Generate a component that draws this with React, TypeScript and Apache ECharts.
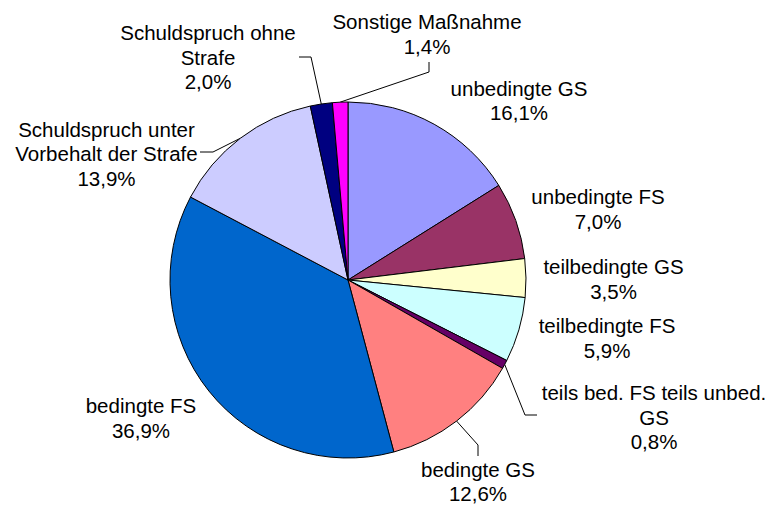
import React, { useEffect, useRef } from "react";
import * as echarts from "echarts";

const categories = [
  "unbedingte GS",
  "unbedingte FS",
  "teilbedingte GS",
  "teilbedingte FS",
  "teils bed. FS teils unbed. GS",
  "bedingte GS",
  "bedingte FS",
  "Schuldspruch unter Vorbehalt der Strafe",
  "Schuldspruch ohne Strafe",
  "Sonstige Maßnahme",
];
const labelTexts = [
  "unbedingte GS",
  "unbedingte FS",
  "teilbedingte GS",
  "teilbedingte FS",
  "teils bed. FS teils unbed.\nGS",
  "bedingte GS",
  "bedingte FS",
  "Schuldspruch unter\nVorbehalt der Strafe",
  "Schuldspruch ohne\nStrafe",
  "Sonstige Maßnahme",
];
const values = [16.1, 7.0, 3.5, 5.9, 0.8, 12.6, 36.9, 13.9, 2.0, 1.4];
const colors = [
  "#9999FF",
  "#993366",
  "#FFFFCC",
  "#CCFFFF",
  "#660066",
  "#FF8080",
  "#0066CC",
  "#CCCCFF",
  "#000080",
  "#FF00FF",
];

// layout: label anchor positions (centre of text block) and leader-line bends
const CX = 348;
const CY = 280;
const R = 178;
const labelPos: number[][] = [
  [519, 100.5],
  [598, 209],
  [613.5, 279],
  [607, 338],
  [654, 417],
  [478, 481.5],
  [141, 418],
  [106.5, 153.5],
  [208, 57],
  [427, 34],
];
const guides: Record<number, number[][]> = {
  4: [
    [525, 415],
    [537, 415],
  ],
  5: [
    [478, 445],
    [478, 456],
  ],
  7: [
    [213, 152],
    [200, 152],
  ],
  8: [
    [311, 57],
    [299, 57],
  ],
  9: [
    [429, 72],
    [429, 62],
  ],
};

function edgePoint(i: number): number[] {
  const total = values.reduce((a, b) => a + b, 0);
  let before = 0;
  for (let k = 0; k < i; k++) before += values[k];
  const frac = (before + values[i] / 2) / total;
  const a = frac * Math.PI * 2;
  return [CX + R * Math.sin(a), CY - R * Math.cos(a)];
}

export default function App() {
  const ref = useRef<HTMLDivElement>(null);
  useEffect(() => {
    document.body.style.margin = "0";
    if (!ref.current) return;
    const chart = echarts.init(ref.current, undefined, { renderer: "svg" });
    const data = categories.map((name, i) => ({
      name,
      value: values[i],
      itemStyle: { color: colors[i] },
      labelLine: { show: !!guides[i] },
    }));
    chart.setOption({
      animation: false,
      backgroundColor: "#ffffff",
      series: [
        {
          type: "pie",
          center: [CX, CY],
          radius: R,
          startAngle: 90,
          clockwise: true,
          avoidLabelOverlap: false,
          silent: true,
          itemStyle: { borderColor: "#000000", borderWidth: 1 },
          label: {
            show: true,
            position: "outside",
            color: "#000000",
            fontFamily: "'Liberation Sans', Arial, sans-serif",
            fontSize: 20.5,
            lineHeight: 24.5,
            overflow: "none",
            formatter: (p: any) =>
              labelTexts[p.dataIndex] +
              "\n" +
              values[p.dataIndex].toFixed(1).replace(".", ",") +
              "%",
          },
          labelLine: {
            show: true,
            lineStyle: { color: "#000000", width: 1 },
          },
          labelLayout: (params: any) => {
            const i = params.dataIndex;
            const p = labelPos[i];
            const res: any = {
              x: p[0],
              y: p[1],
              align: "center",
              verticalAlign: "middle",
            };
            if (guides[i]) {
              const start = edgePoint(i);
              res.labelLinePoints = [start, guides[i][0], guides[i][1]];
            }
            return res;
          },
          data,
        },
      ],
    });
    return () => chart.dispose();
  }, []);
  return <div ref={ref} style={{ width: 770, height: 506 }} />;
}
